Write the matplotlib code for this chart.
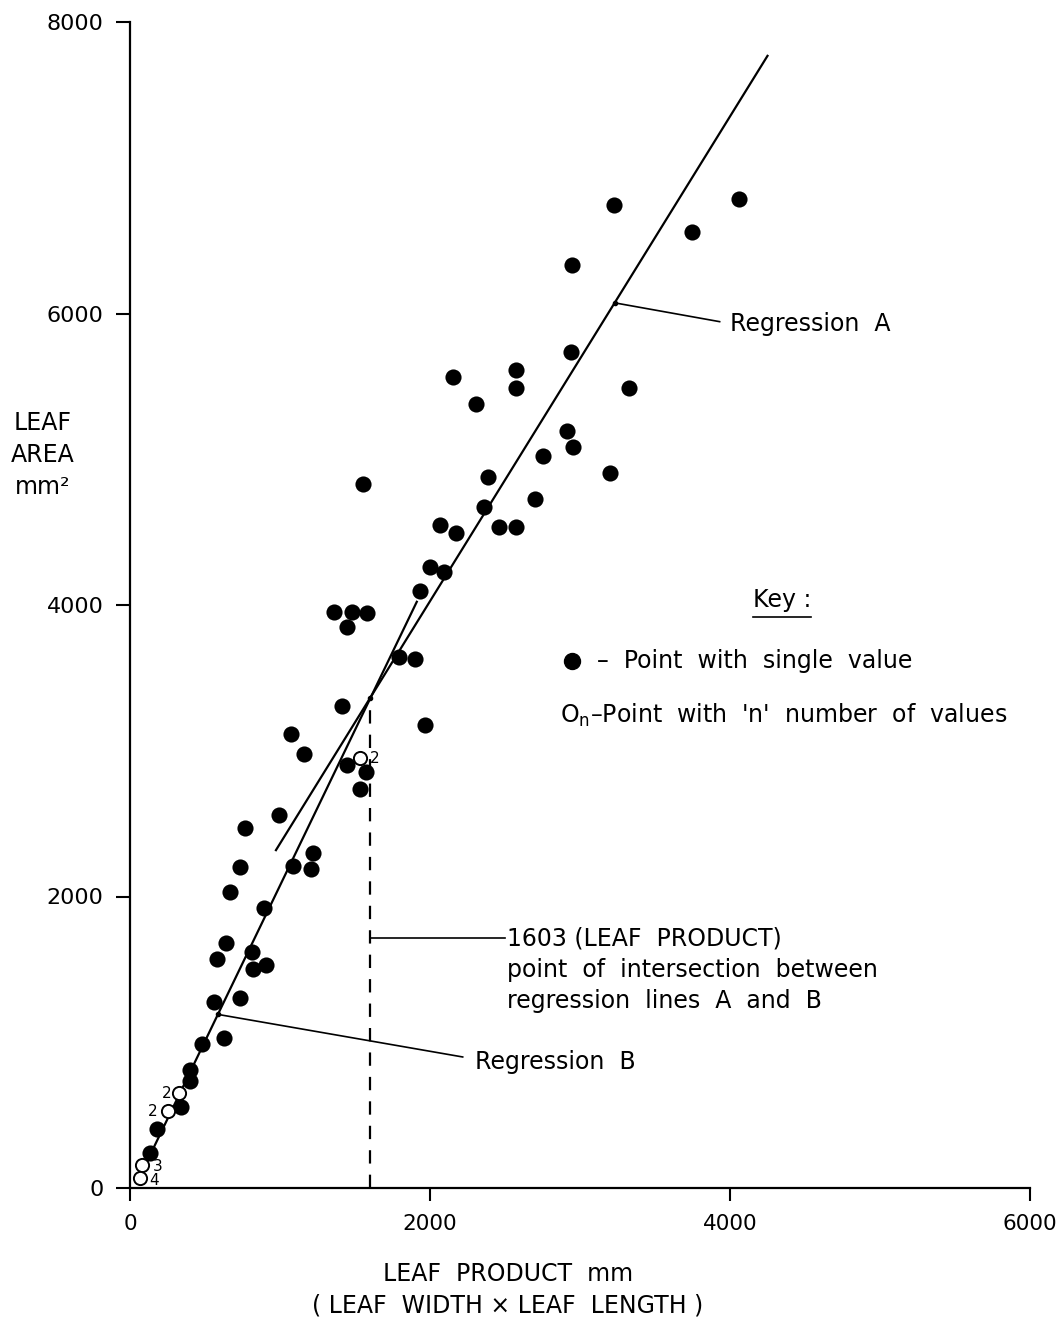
import matplotlib
matplotlib.use('Agg')
import matplotlib.pyplot as plt
from matplotlib.lines import Line2D
import numpy as np

# leaf product (mm) vs leaf area (mm^2), single-value points
single_x = [3227, 4059, 3749, 2945, 2938, 3326, 2154, 2305, 2572, 2576,
            1550, 2913, 2951, 2754, 2385, 3198, 2698, 2358, 2067, 2172,
            2458, 2572, 1997, 2094, 1932, 1359, 1477, 1581, 1448, 1794,
            1897, 1412, 1967, 1071, 1161, 1444, 1570, 1534, 995, 766,
            1221, 733, 1088, 1204, 666, 893, 640, 578, 811, 906,
            821, 733, 560, 626, 478, 400, 403, 340, 183, 133]
single_y = [6742, 6786, 6561, 6333, 5733, 5491, 5564, 5381, 5614, 5491,
            4830, 5191, 5084, 5024, 4880, 4903, 4729, 4674, 4548, 4491,
            4532, 4532, 4264, 4223, 4097, 3951, 3955, 3942, 3850, 3640,
            3631, 3310, 3178, 3114, 2977, 2903, 2853, 2739, 2562, 2471,
            2301, 2201, 2210, 2187, 2029, 1920, 1684, 1572, 1622, 1531,
            1501, 1306, 1279, 1030, 988, 810, 731, 558, 402, 242]

# points carrying n coincident values
multi_x = [1532, 326, 255, 83, 69]
multi_y = [2953, 650, 526, 156, 72]
multi_n = [2, 2, 2, 3, 4]

# regression lines (intercept, slope) and their plotted ranges
reg_a = (700.0, 1.663)
reg_a_range = (973, 4250)
reg_b = (-60.0, 2.135)
reg_b_range = (50, 1912)
intersect_x = 1603


def line_y(reg, x):
    return reg[0] + reg[1] * np.asarray(x, dtype=float)


plt.rcParams['font.family'] = 'DejaVu Sans'

fig = plt.figure(figsize=(10.59, 13.21), dpi=100)
ax = fig.add_axes([130 / 1059, 133 / 1321, 900 / 1059, 1166 / 1321])
ax.set_xlim(0, 6000)
ax.set_ylim(0, 8000)

for s in ['top', 'right']:
    ax.spines[s].set_visible(False)
for s in ['left', 'bottom']:
    ax.spines[s].set_linewidth(1.6)

ax.set_xticks([0, 2000, 4000, 6000])
ax.set_yticks([0, 2000, 4000, 6000, 8000])
ax.tick_params(axis='x', direction='out', length=9, width=1.5, pad=10, labelsize=15.5)
ax.tick_params(axis='y', direction='out', length=10, width=1.5, pad=9, labelsize=16)

# regression lines
xa = np.array(reg_a_range)
xb = np.array(reg_b_range)
ax.plot(xa, line_y(reg_a, xa), color='black', lw=1.6)
ax.plot(xb, line_y(reg_b, xb), color='black', lw=1.6)

# data points
ax.scatter(single_x, single_y, s=135, color='black', zorder=3, linewidths=0)
ax.scatter(multi_x, multi_y, s=90, facecolor='white', edgecolor='black',
           linewidths=1.4, zorder=4)
label_offsets = [(11, -1), (-9, 0), (-11, 0), (11, -1), (10, -2)]
for x, y, n, off in zip(multi_x, multi_y, multi_n, label_offsets):
    ax.annotate(str(n), (x, y), xytext=off, textcoords='offset points',
                ha='center', va='center', fontsize=11, zorder=5)

# intersection of A and B, dropped to the x axis
y_int = float(line_y(reg_b, intersect_x))
ax.plot([intersect_x, intersect_x], [0, y_int], color='black', lw=1.6,
        linestyle=(0, (6, 5)))
ax.plot([intersect_x], [y_int], 'o', color='black', ms=3)
ax.plot([intersect_x, 2498], [1716, 1716], color='black', lw=1.2)
ax.text(2512, 1716 + 80,
        '1603 (LEAF  PRODUCT)\npoint  of  intersection  between\nregression  lines  A  and  B',
        ha='left', va='top', fontsize=17, linespacing=1.4)

# leader for regression A
xa_lead = 3231
ax.plot([xa_lead, 3931], [float(line_y(reg_a, xa_lead)), 5944], color='black', lw=1.2)
ax.plot([xa_lead], [float(line_y(reg_a, xa_lead))], 'o', color='black', ms=3)
ax.text(3997, 5930, 'Regression  A', ha='left', va='center', fontsize=17)

# leader for regression B
xb_lead = 586
ax.plot([xb_lead, 2218], [float(line_y(reg_b, xb_lead)), 899], color='black', lw=1.2)
ax.plot([xb_lead], [float(line_y(reg_b, xb_lead))], 'o', color='black', ms=3)
ax.text(2298, 865, 'Regression  B', ha='left', va='center', fontsize=17)

# key
key_txt = ax.text(0.7244, 0.5043, 'Key :', transform=ax.transAxes,
                  ha='center', va='center', fontsize=17)
ax.plot([0.491], [0.452], 'o', color='black', ms=11.5, transform=ax.transAxes,
        clip_on=False)
ax.text(0.519, 0.452, '–  Point  with  single  value', transform=ax.transAxes,
        ha='left', va='center', fontsize=17)
ax.text(0.478, 0.4057, r"O$_\mathregular{n}$–Point  with  'n'  number  of  values",
        transform=ax.transAxes, ha='left', va='center', fontsize=17)

# axis labels
ax.set_ylabel('LEAF\nAREA\nmm²', rotation=0, fontsize=17, ha='center',
              va='center', linespacing=1.4)
ax.yaxis.set_label_coords(-0.0967, 0.6286)
ax.set_xlabel('LEAF  PRODUCT  mm\n( LEAF  WIDTH × LEAF  LENGTH )', fontsize=17,
              ha='center', va='center', linespacing=1.4)
ax.xaxis.set_label_coords(0.42, -0.0875)

# underline under "Key :"
fig.canvas.draw()
bb = key_txt.get_window_extent().transformed(fig.transFigure.inverted())
fig.add_artist(Line2D([bb.x0, bb.x1], [bb.y0 - 0.004, bb.y0 - 0.004],
                      color='black', lw=1.2, transform=fig.transFigure))

fig.savefig('out.png', dpi=100)
